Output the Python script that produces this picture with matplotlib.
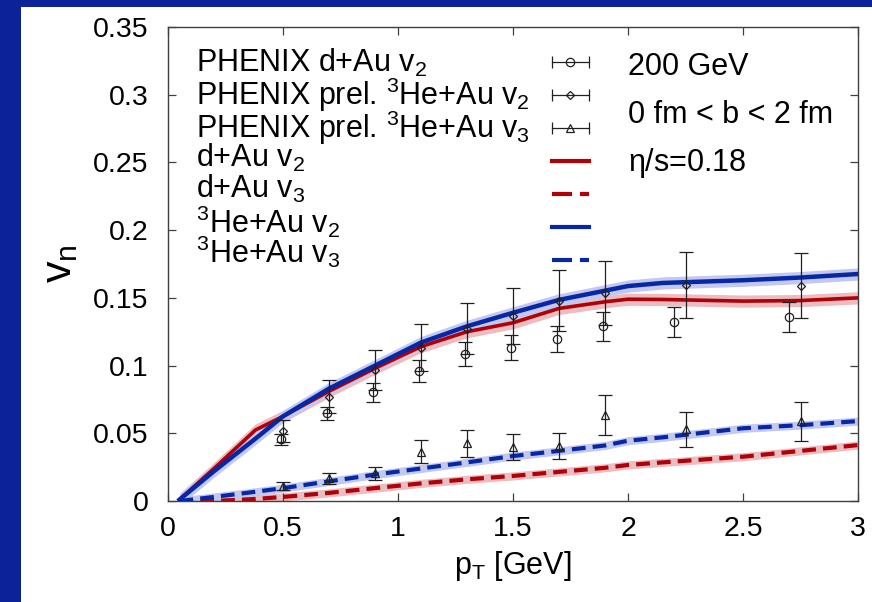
import matplotlib
matplotlib.use("Agg")
import matplotlib.pyplot as plt
from matplotlib.lines import Line2D
from matplotlib.patches import Rectangle
from matplotlib.legend_handler import HandlerLine2D

plt.rcParams['font.family'] = ['Liberation Sans', 'DejaVu Sans']
plt.rcParams['mathtext.fontset'] = 'custom'
plt.rcParams['mathtext.rm'] = 'Liberation Sans'
plt.rcParams['mathtext.it'] = 'Liberation Sans'

# PHENIX data points
pt_dau = [0.49, 0.69, 0.89, 1.09, 1.29, 1.49, 1.69, 1.89, 2.2, 2.7]
v2_dau = [0.0455, 0.0647, 0.0802, 0.0962, 0.1088, 0.1132, 0.1198, 0.129, 0.1324, 0.136]
v2_dau_err = [0.004, 0.005, 0.0068, 0.008, 0.0088, 0.0093, 0.0097, 0.0105, 0.011, 0.011]

pt_he = [0.5, 0.7, 0.9, 1.1, 1.3, 1.5, 1.7, 1.9, 2.25, 2.75]
v2_he = [0.0517, 0.077, 0.0967, 0.1132, 0.1272, 0.1366, 0.148, 0.1538, 0.1597, 0.159]
v2_he_err = [0.008, 0.012, 0.015, 0.0175, 0.019, 0.021, 0.0226, 0.0235, 0.0245, 0.024]
v3_he = [0.011, 0.0168, 0.0204, 0.0364, 0.0426, 0.0401, 0.0406, 0.0635, 0.0529, 0.0588]
v3_he_err = [0.003, 0.004, 0.005, 0.0085, 0.01, 0.0096, 0.0096, 0.015, 0.0128, 0.0142]

# hydro curves, eta/s = 0.18
pt_calc = [0.05, 0.2, 0.38, 0.5, 0.7, 0.9, 1.1, 1.3, 1.5, 1.7, 1.9, 2.0, 2.15, 2.5, 2.75, 3.0]
calc_v2_dau = [0.001, 0.024, 0.0524, 0.0625, 0.081, 0.098, 0.114, 0.125, 0.1316, 0.1422,
               0.1471, 0.149, 0.1488, 0.1476, 0.148, 0.150]
calc_v3_dau = [-0.001, 0.0, 0.0015, 0.003, 0.006, 0.0095, 0.013, 0.016, 0.0185, 0.0215,
               0.0245, 0.0266, 0.0285, 0.0327, 0.037, 0.0413]
calc_v2_he = [0.001, 0.022, 0.046, 0.0625, 0.083, 0.1, 0.117, 0.129, 0.139, 0.1485,
              0.1553, 0.1587, 0.161, 0.163, 0.165, 0.1676]
calc_v3_he = [0.0, 0.003, 0.0068, 0.0095, 0.0145, 0.0195, 0.024, 0.0285, 0.0332, 0.037,
              0.041, 0.0445, 0.047, 0.0537, 0.056, 0.059]
band_v2 = 0.0045
band_v3 = 0.003

labels = [r'PHENIX d+Au v$_\mathregular{2}$',
          r'PHENIX prel. $^\mathregular{3}$He+Au v$_\mathregular{2}$',
          r'PHENIX prel. $^\mathregular{3}$He+Au v$_\mathregular{3}$',
          r'd+Au v$_\mathregular{2}$',
          r'd+Au v$_\mathregular{3}$',
          r'$^\mathregular{3}$He+Au v$_\mathregular{2}$',
          r'$^\mathregular{3}$He+Au v$_\mathregular{3}$']
# baselines of the key texts (axes fraction), as gnuplot stacked them
label_y = [0.9057, 0.8354, 0.7652, 0.7053, 0.6386, 0.5648, 0.5015]

red = '#b00008'
blue = '#0628a6'
red_band = '#ebbcc0'
blue_band = '#c3c8ee'
black = '#202020'
fs = 22

fig = plt.figure(figsize=(8.72, 6.02), dpi=100, facecolor='#0b2298')
fig.patches.append(Rectangle((21 / 872, 0), 1, 595 / 602, transform=fig.transFigure,
                             facecolor='white', edgecolor='none', zorder=-5))
ax = fig.add_axes([168 / 872, 101 / 602, 690 / 872, 474 / 602])
ax.set_facecolor('white')

# bands
def lo(v, b):
    return [x - b for x in v]

def hi(v, b):
    return [x + b for x in v]

ax.fill_between(pt_calc, lo(calc_v2_dau, band_v2), hi(calc_v2_dau, band_v2), color=red_band, lw=0, zorder=1)
ax.fill_between(pt_calc, lo(calc_v3_dau, band_v3), hi(calc_v3_dau, band_v3), color=red_band, lw=0, zorder=1)
ax.fill_between(pt_calc, lo(calc_v2_he, band_v2), hi(calc_v2_he, band_v2), color=blue_band, lw=0, zorder=1)
ax.fill_between(pt_calc, lo(calc_v3_he, band_v3), hi(calc_v3_he, band_v3), color=blue_band, lw=0, zorder=1)

ax.plot(pt_calc, calc_v2_dau, color=red, lw=2.6, zorder=2)
ax.plot(pt_calc, calc_v3_dau, color=red, lw=3, dashes=(3.3, 1.7), zorder=2)
ax.plot(pt_calc, calc_v2_he, color=blue, lw=3.2, zorder=3)
ax.plot(pt_calc, calc_v3_he, color=blue, lw=3, dashes=(3.3, 1.7), zorder=3)

eb = dict(ls='none', color=black, mfc='none', mec=black, ms=6, mew=0.9,
          elinewidth=0.9, capsize=5, capthick=0.9, zorder=5)
ax.errorbar(pt_dau, v2_dau, yerr=v2_dau_err, marker='o', **eb)
ax.errorbar(pt_he, v2_he, yerr=v2_he_err, marker='D', **dict(eb, ms=4.5))
ax.errorbar(pt_he, v3_he, yerr=v3_he_err, marker='^', **eb)

ax.set_xlim(0, 3)
ax.set_ylim(0, 0.35)
ax.set_xticks([0, 0.5, 1, 1.5, 2, 2.5, 3])
ax.set_xticklabels(['0', '0.5', '1', '1.5', '2', '2.5', '3'])
ax.set_yticks([0, 0.05, 0.1, 0.15, 0.2, 0.25, 0.3, 0.35])
ax.set_yticklabels(['0', '0.05', '0.1', '0.15', '0.2', '0.25', '0.3', '0.35'])
ax.tick_params(direction='in', top=True, right=True, length=6, width=0.9,
               color='#404040', labelsize=20.5, pad=11)
ax.tick_params(axis='y', pad=14)
for s in ax.spines.values():
    s.set_color('#404040')
    s.set_linewidth(1)

ax.set_xlabel(r'p$_\mathregular{T}$ [GeV]', fontsize=fs, labelpad=5)
ax.set_ylabel(r'v$_\mathregular{n}$', fontsize=31, labelpad=9)

# key: samples in a column on the right, texts on the left
cap = Line2D([], [], ls='none', marker='|', ms=8, mew=0.9, color=black)
h_dau = (Line2D([], [], color=black, lw=0.9, marker='o', mfc='none', mec=black, ms=6, mew=0.9), cap)
h_he2 = (Line2D([], [], color=black, lw=0.9, marker='D', mfc='none', mec=black, ms=4.5, mew=0.9), cap)
h_he3 = (Line2D([], [], color=black, lw=0.9, marker='^', mfc='none', mec=black, ms=6, mew=0.9), cap)
h_r2 = Line2D([], [], color=red, lw=3)
h_r3 = Line2D([], [], color=red, lw=3, dashes=(4.8, 1.9))
h_b2 = Line2D([], [], color=blue, lw=3)
h_b3 = Line2D([], [], color=blue, lw=3, dashes=(4.8, 1.9))
ax.legend([h_dau, h_he2, h_he3, h_r2, h_r3, h_b2, h_b3], [''] * len(labels),
          handler_map={cap: HandlerLine2D(numpoints=2, marker_pad=0)},
          loc='upper left', bbox_to_anchor=(0.5565, 0.9525), borderaxespad=0, borderpad=0,
          frameon=False, numpoints=1, fontsize=fs, labelspacing=0.1,
          handlelength=1.2, handletextpad=0)
for lab, y in zip(labels, label_y):
    ax.text(0.0406, y, lab, transform=ax.transAxes, fontsize=fs, va='baseline')

ax.text(2.0, 0.3205, '200 GeV', fontsize=fs, va='center')
ax.text(2.0, 0.285, '0 fm < b < 2 fm', fontsize=fs, va='center')
ax.text(2.0, 0.2496, r'$\eta$/s=0.18', fontsize=fs, va='center')

fig.savefig('out.png', dpi=100, facecolor=fig.get_facecolor())
